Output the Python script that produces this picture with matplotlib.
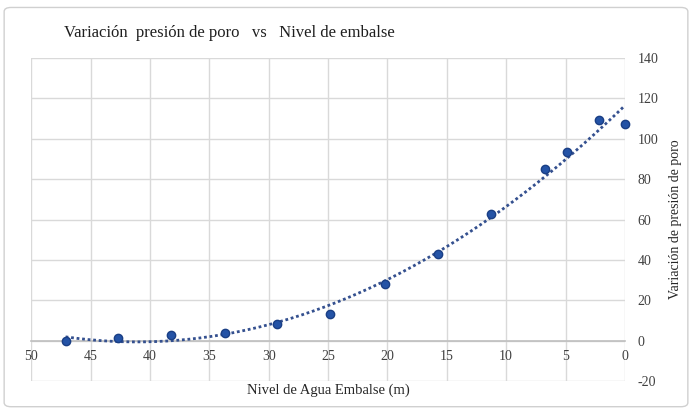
import matplotlib
matplotlib.use("Agg")
import matplotlib.pyplot as plt
import numpy as np
from matplotlib.patches import FancyBboxPatch

# Nivel de agua (m) y variación de presión de poro
nivel = [47.1, 42.7, 38.2, 33.7, 29.3, 24.8, 20.2, 15.7, 11.3, 6.7, 4.9, 2.2, 0.0]
presion = [0.0, 1.5, 2.6, 3.6, 8.3, 13.2, 28.1, 43.0, 62.5, 84.9, 93.6, 109.5, 107.5]

x_ticks = [50, 45, 40, 35, 30, 25, 20, 15, 10, 5, 0]
y_ticks = [-20, 0, 20, 40, 60, 80, 100, 120, 140]

TITLE = "Variación  presión de poro   vs   Nivel de embalse"
XLABEL = "Nivel de Agua Embalse (m)"
YLABEL = "Variación de presión de poro"

plt.rcParams["font.family"] = ["Liberation Serif", "DejaVu Serif"]
plt.rcParams["axes.unicode_minus"] = False

fig = plt.figure(figsize=(6.92, 4.15), dpi=100)
ax = fig.add_axes([0.045, 0.082, 0.858, 0.778])

# tendencia polinómica de orden 2 (como en Excel)
coef = np.polyfit(nivel, presion, 2)
xs = np.linspace(max(nivel), 0, 200)
ax.plot(xs, np.polyval(coef, xs), linestyle=(0, (1, 1)), color="#34508f",
        linewidth=2.0, zorder=3)

ax.scatter(nivel, presion, s=36, color="#2453a6", edgecolor="#1a3f85",
           linewidth=1.0, zorder=4, clip_on=False)

ax.set_xlim(50, 0)
ax.set_ylim(-20, 140)
ax.set_xticks(x_ticks)
ax.set_yticks(y_ticks)

ax.grid(True, color="#d9d9d9", linewidth=1.0, zorder=0)
for side in ["top", "left", "right"]:
    ax.spines[side].set_visible(False)
ax.spines["bottom"].set_position(("data", 0))
ax.spines["bottom"].set_color("#bfbfbf")
ax.spines["bottom"].set_linewidth(1.2)

ax.yaxis.tick_right()
ax.yaxis.set_label_position("right")
ax.tick_params(axis="both", length=0, labelsize=10, colors="#404040")
ax.tick_params(axis="x", pad=7)
ax.tick_params(axis="y", pad=9)

ax.set_ylabel(YLABEL, fontsize=10, color="#262626", labelpad=8)
ax.text(0.5, -0.03, XLABEL, transform=ax.transAxes, ha="center", va="center",
        fontsize=10.5, color="#262626")

fig.text(0.331, 0.92, TITLE, ha="center", va="center", fontsize=12,
         color="#1f1f1f")

border = FancyBboxPatch((0.006, 0.02), 0.988, 0.962,
                        boxstyle="round,pad=0,rounding_size=0.01",
                        transform=fig.transFigure, fill=False,
                        edgecolor="#d0d0d0", linewidth=1.0)
fig.patches.append(border)

fig.savefig("out.png", dpi=100)
